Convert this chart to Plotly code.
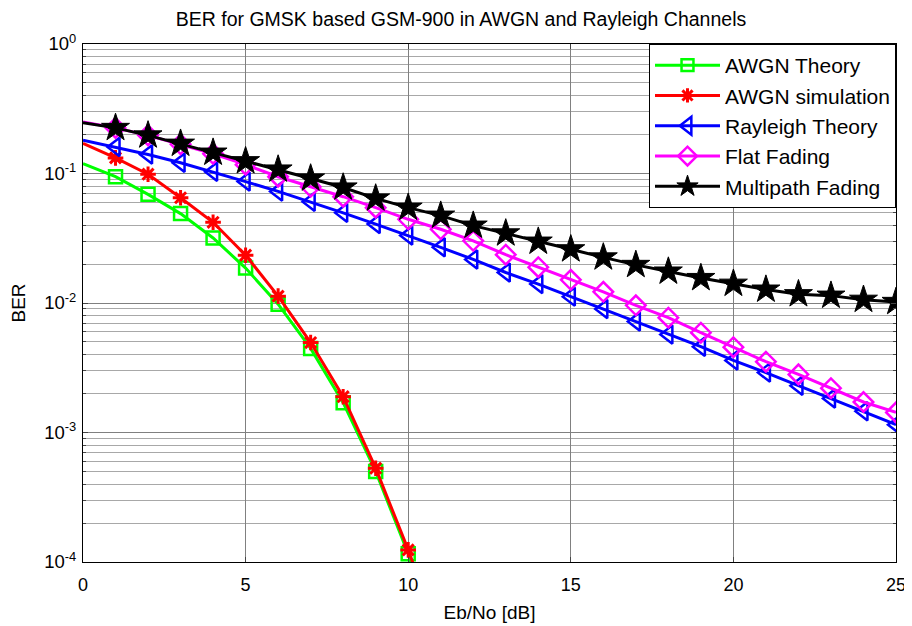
import plotly.graph_objects as go

# ---- data ----
eb_no = list(range(0, 26))

awgn_theory = [0.119, 0.0945, 0.0690, 0.0490, 0.0318, 0.0186, 0.0098, 0.00446,
               0.0017, 0.00050, 0.000116, 0.0000175]
awgn_sim = [0.171, 0.132, 0.0988, 0.065, 0.042, 0.0234, 0.0113, 0.00495,
            0.00189, 0.00053, 0.000124, 0.000025]
rayleigh_theory = [0.181, 0.160, 0.140, 0.121, 0.103, 0.0866, 0.0727, 0.0604,
                   0.0497, 0.0407, 0.0332, 0.0269, 0.0217, 0.0172, 0.0140,
                   0.0112, 0.0090, 0.0072, 0.0057, 0.0046, 0.0036, 0.0029,
                   0.0023, 0.00183, 0.00146, 0.00115]
flat_fading = [0.250, 0.225, 0.197, 0.168, 0.142, 0.117, 0.0944, 0.079, 0.0662,
               0.0545, 0.0443, 0.0371, 0.0302, 0.0236, 0.0189, 0.0151, 0.0122,
               0.0096, 0.0077, 0.0059, 0.00456, 0.00352, 0.00281, 0.0022,
               0.00172, 0.00143]
multipath_fading = [0.247, 0.225, 0.197, 0.170, 0.145, 0.1245, 0.1074, 0.0916,
                    0.078, 0.0642, 0.0545, 0.0473, 0.0396, 0.0345, 0.0298,
                    0.026, 0.0225, 0.0197, 0.0175, 0.0156, 0.0141, 0.0127,
                    0.0117, 0.0114, 0.0106, 0.0102]

series_names = ["AWGN Theory", "AWGN simulation", "Rayleigh Theory",
                "Flat Fading", "Multipath Fading"]
x_tick_vals = [0, 5, 10, 15, 20, 25]
y_tick_vals = [1e-4, 1e-3, 1e-2, 1e-1, 1]
y_tick_text = ["10<sup>-4</sup>", "10<sup>-3</sup>", "10<sup>-2</sup>",
               "10<sup>-1</sup>", "10<sup>0</sup>"]

FONT = "Liberation Sans, Arial, sans-serif"

styles = [
    dict(color="#00ff00", symbol="square-open", size=13, lw=2.5),
    dict(color="#ff0000", symbol="asterisk-open", size=13, lw=3),
    dict(color="#0000ff", symbol="triangle-left-open", size=16, lw=2.5),
    dict(color="#ff00ff", symbol="diamond-open", size=15, lw=2.5),
    dict(color="#000000", symbol="star", size=21, lw=1),
]
datasets = [awgn_theory, awgn_sim, rayleigh_theory, flat_fading, multipath_fading]

fig = go.Figure()
for name, ys, st in zip(series_names, datasets, styles):
    xs = eb_no[:len(ys)]
    sizes = [0] + [st["size"]] * (len(ys) - 1)
    fig.add_trace(go.Scatter(
        x=xs, y=ys, name=name, mode="lines+markers",
        line=dict(color=st["color"], width=3),
        marker=dict(symbol=st["symbol"], size=sizes, color=st["color"],
                    opacity=1,
                    line=dict(color=st["color"], width=st["lw"])),
    ))

minor_vals = [m * 10 ** e for e in range(-4, 0) for m in range(2, 10)]

# the page body adds an 8px offset, so the figure is 8px smaller than the window
W, H = 904, 618
fig.update_layout(
    width=W, height=H,
    margin=dict(l=75, r=16, t=36, b=64),
    paper_bgcolor="white", plot_bgcolor="white",
    font=dict(family=FONT, size=18, color="black"),
    title=dict(text="BER for GMSK based GSM-900 in AWGN and Rayleigh Channels",
               x=453 / W, xanchor="center", xref="container",
               y=1 - 11 / H, yanchor="middle", yref="container",
               font=dict(size=19.5)),
    legend=dict(x=1, xanchor="right", y=1, yanchor="top",
                bordercolor="black", borderwidth=1, bgcolor="white",
                font=dict(size=21), itemwidth=65, tracegroupgap=0,
                entrywidth=250, entrywidthmode="pixels"),
    showlegend=True,
)
fig.update_xaxes(
    range=[0, 25], tickvals=x_tick_vals, ticks="inside", ticklen=5,
    showline=True, linecolor="black", linewidth=1, mirror="ticks",
    showgrid=True, gridcolor="#808080", gridwidth=1, zeroline=False,
    tickfont=dict(size=18), automargin=False, ticklabelstandoff=6,
    title=dict(text="Eb/No [dB]", font=dict(size=19), standoff=12),
)
fig.update_yaxes(
    type="log", range=[-4, 0], tickvals=y_tick_vals, ticktext=y_tick_text,
    ticks="inside", ticklen=5,
    showline=True, linecolor="black", linewidth=1, mirror="ticks",
    showgrid=True, gridcolor="#808080", gridwidth=1, zeroline=False,
    tickfont=dict(size=18.5), automargin=False, ticklabelstandoff=2,
    minor=dict(tickvals=minor_vals, ticks="inside", ticklen=3,
               showgrid=True, gridcolor="#a8a8a8", gridwidth=1),
    title=dict(text="BER", font=dict(size=19), standoff=20),
)

fig.write_html("out.html")
